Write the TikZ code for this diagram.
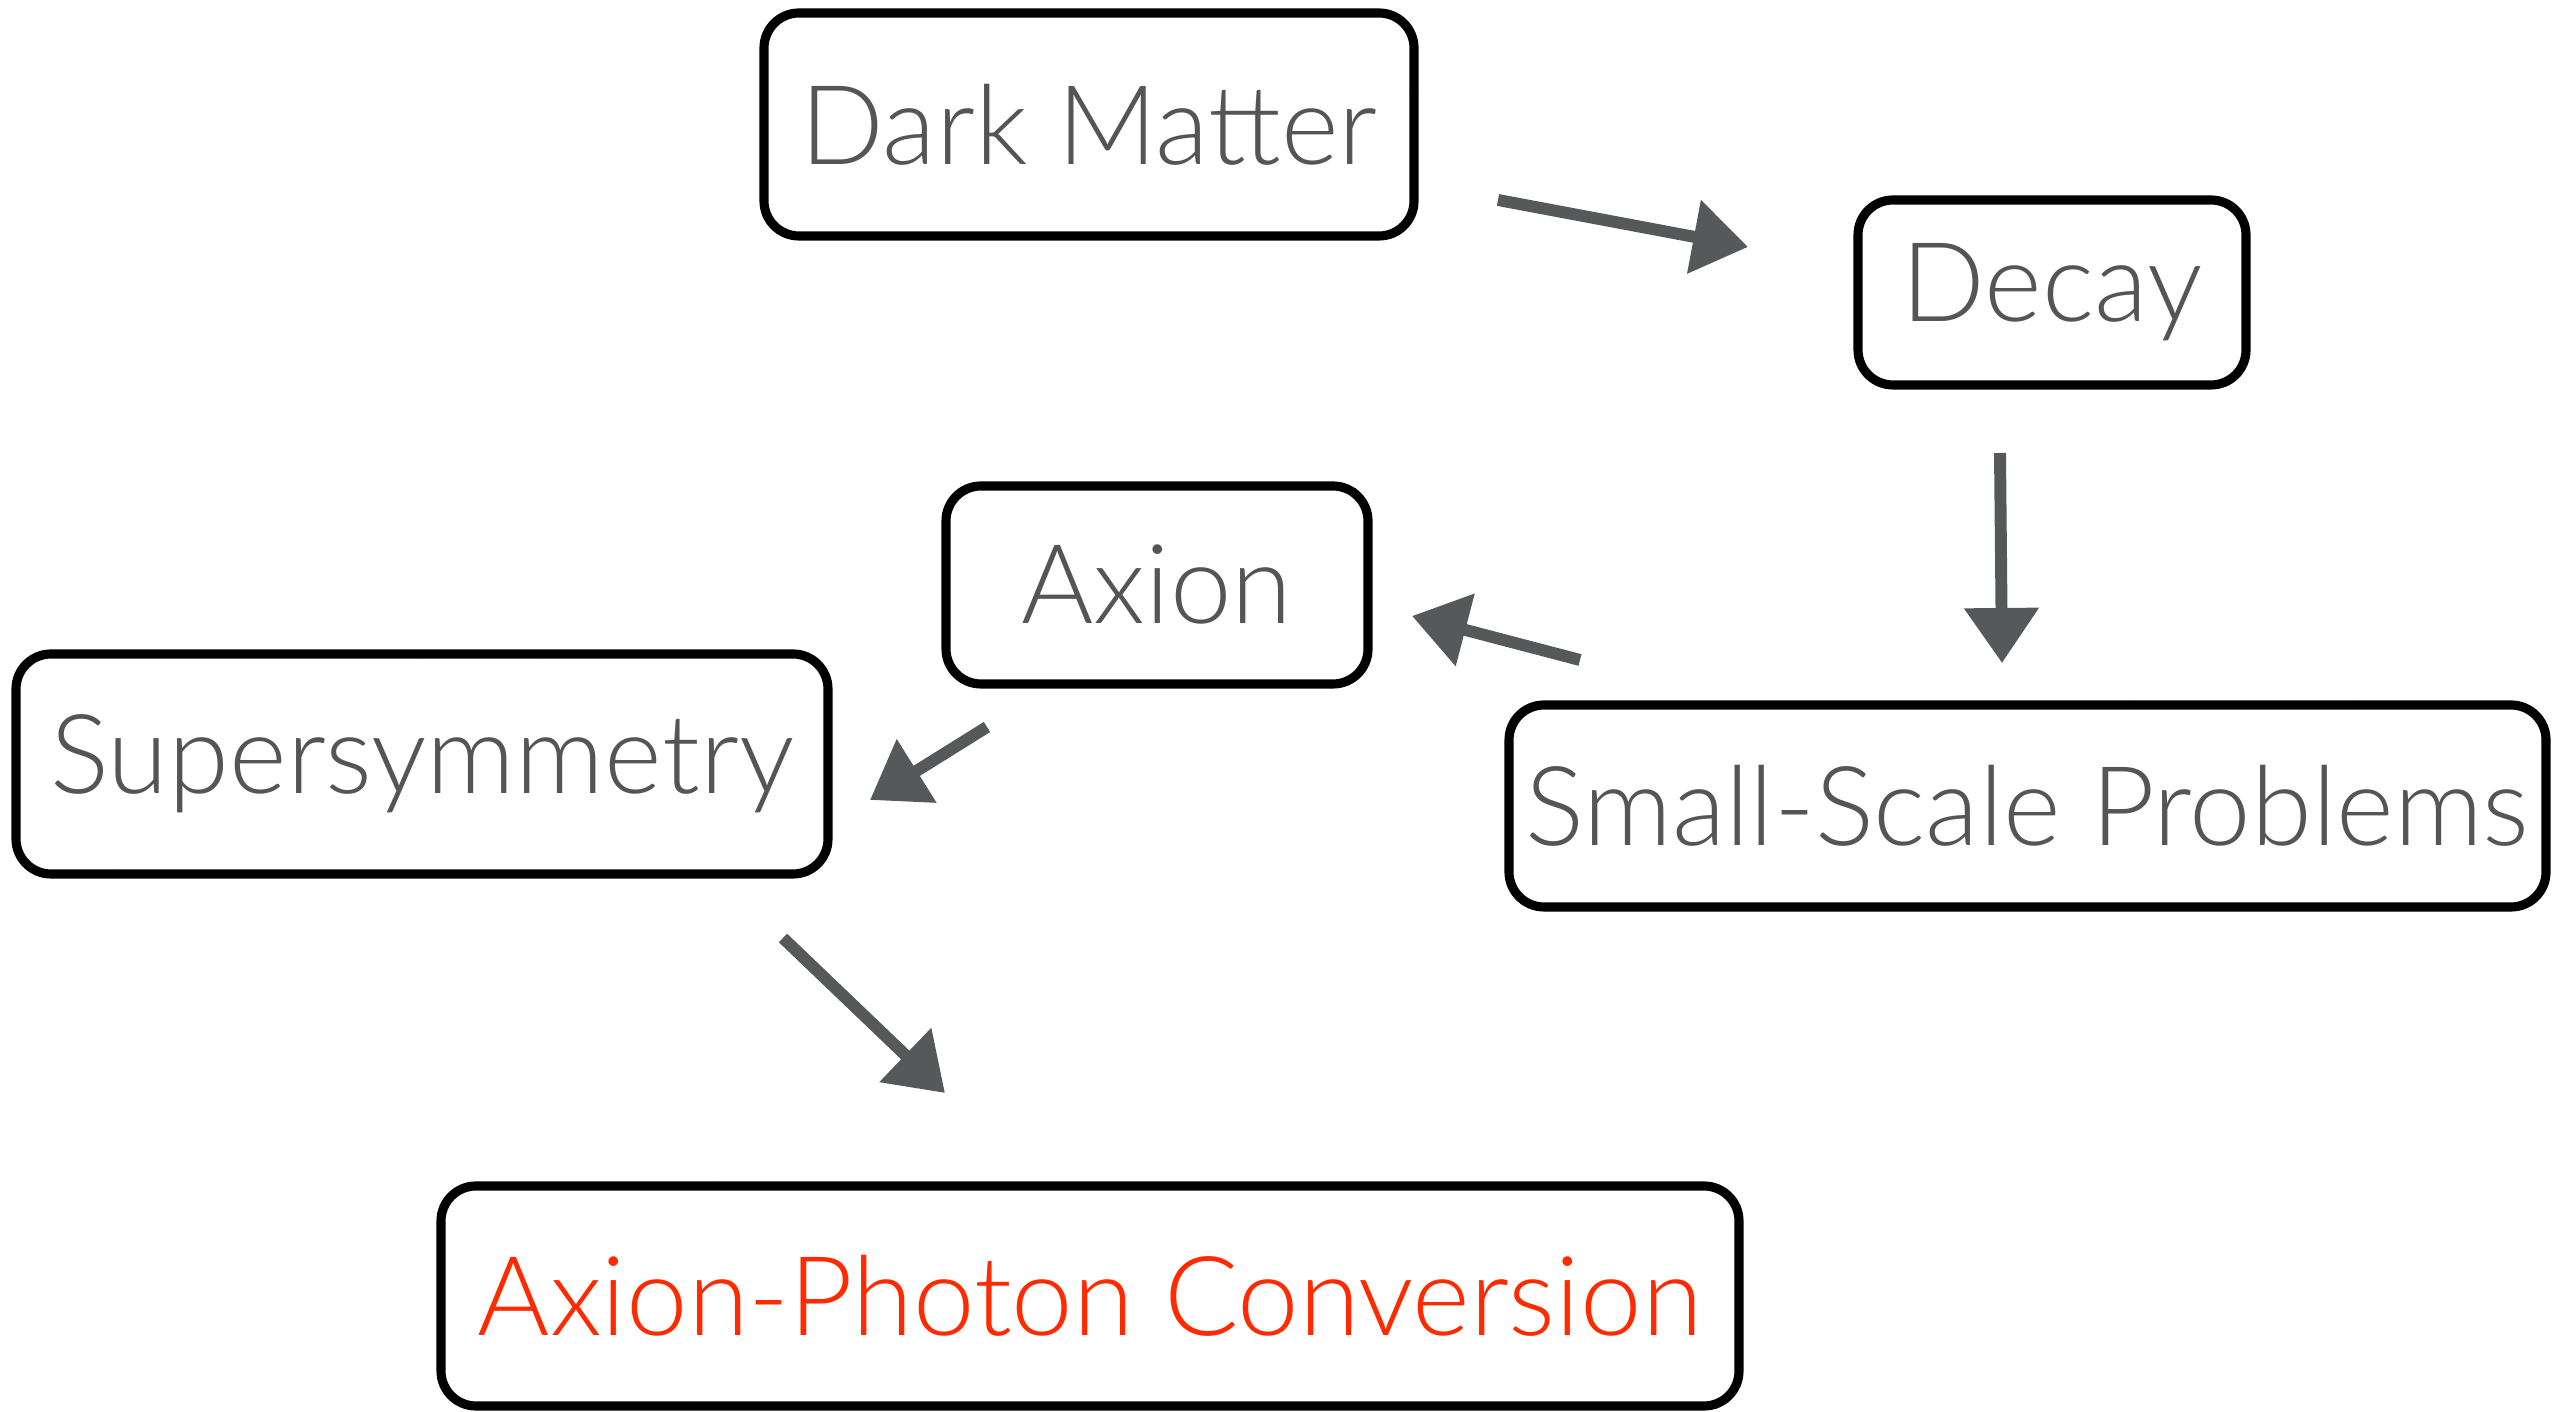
\documentclass[tikz,border=0pt]{standalone}
\usepackage{fontspec}
\setmainfont{Lato}[UprightFont=* Light]
\usetikzlibrary{arrows.meta,decorations.pathmorphing}

\definecolor{labelgray}{HTML}{555555}
\definecolor{arrowgray}{HTML}{565959}
\definecolor{axred}{HTML}{FF2A00}

\tikzset{
    topic/.style={draw=black, line width=2.6pt, rounded corners=0.35cm,
        text=labelgray, font=\fontsize{31.4}{36}\selectfont,
        inner sep=0pt, align=center,
        postaction={draw=black, line width=0.8pt, sharp corners,
            decorate, decoration={random steps, segment length=1.5pt, amplitude=0.7pt}}},
    flow/.style={draw=arrowgray, line width=3.4pt,
        -{Triangle[width=0.72cm,length=0.55cm]}}
}

\begin{document}
\begin{tikzpicture}
            \useasboundingbox (0,0) rectangle (25.72,14.12);

            % Nodes
            \node[topic, minimum width=6.5cm, minimum height=2.23cm] (DarkMatter) at (10.89, 12.875) {Dark Matter};
            \node[topic, minimum width=3.88cm, minimum height=1.85cm] (Decay) at (20.52, 11.195) {Decay};
            \node[topic, minimum width=4.22cm, minimum height=1.98cm] (Axion) at (11.57, 8.27) {Axion};
            \node[topic, minimum width=8.12cm, minimum height=2.2cm] (SUSY) at (4.22, 6.48) {Supersymmetry};
            \node[topic, minimum width=10.37cm, minimum height=2.02cm] (SmallScale) at (20.275, 6.06) {Small-Scale Problems};
            \node[topic, text=axred, minimum width=12.98cm, minimum height=2.2cm] (Conversion) at (10.90, 1.16) {Axion-Photon Conversion};

            % Arrow ends
            \coordinate (DMout) at (14.98, 12.12);
            \coordinate (DecayIn) at (17.48, 11.65);
            \coordinate (DecayOut) at (20.00, 9.59);
            \coordinate (SSPIn) at (20.02, 7.49);
            \coordinate (SSPOut) at (15.80, 7.52);
            \coordinate (AxionIn) at (14.12, 7.96);
            \coordinate (AxionOut) at (9.87, 6.85);
            \coordinate (SUSYIn) at (8.70, 6.12);
            \coordinate (SUSYOut) at (7.83, 4.74);
            \coordinate (ConvIn) at (9.45, 3.19);

            % Arrows
            \draw[flow] (DMout) -- (DecayIn);
            \draw[flow] (DecayOut) -- (SSPIn);
            \draw[flow] (SSPOut) -- (AxionIn);
            \draw[flow] (AxionOut) -- (SUSYIn);
            \draw[flow] (SUSYOut) -- (ConvIn);
        \end{tikzpicture}
\end{document}
